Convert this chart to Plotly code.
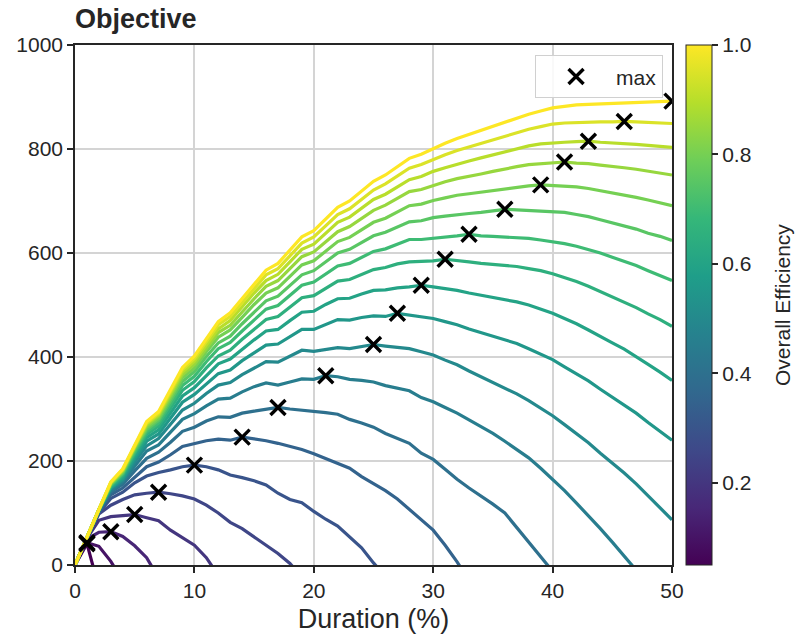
import plotly.graph_objects as go
from plotly.colors import sample_colorscale

# Duration grid (%), one value per integer step
duration = list(range(51))

# Overall efficiency of each curve
efficiency = [0.05, 0.10, 0.15, 0.20, 0.25, 0.30, 0.35, 0.40, 0.45, 0.50,
              0.55, 0.60, 0.65, 0.70, 0.75, 0.80, 0.85, 0.90, 0.95, 1.00]

# Objective value per curve, starting at duration 0 (a curve stops once it drops below zero)
obj_005 = [0, 41, -44]
obj_010 = [0, 43, 36, 7, -31]
obj_015 = [0, 50, 63, 64, 55, 37, 14, -25]
obj_020 = [0, 51, 86, 93, 95, 97, 91, 85, 67, 52, 38, 14, -20]
obj_025 = [0, 52, 98, 115, 126, 135, 138, 140, 137, 133, 127, 115, 100, 82, 70, 54,
           39, 22, 3, -23]
obj_030 = [0, 52, 100, 128, 140, 158, 171, 178, 183, 189, 192, 189, 183, 173, 168, 162,
           154, 138, 126, 120, 103, 88, 75, 55, 33, 4, -22]
obj_035 = [0, 53, 102, 135, 148, 169, 189, 198, 212, 228, 233,
           239, 242, 240, 246, 243, 239, 234, 228, 222, 214,
           205, 196, 186, 170, 157, 143, 127, 107, 89, 67,
           38, 6, -30]
obj_040 = [0, 53, 104, 140, 155, 181, 205, 217, 236, 257, 265,
           277, 285, 284, 292, 296, 299, 303, 300, 298, 295,
           293, 290, 280, 273, 265, 253, 244, 234, 215, 203,
           184, 165, 148, 133, 117, 100, 72, 45, 17, -12]
obj_045 = [0, 53, 105, 143, 160, 190, 219, 231, 255, 280, 291,
           306, 319, 321, 333, 343, 350, 346, 352, 358, 357,
           364, 362, 357, 355, 352, 345, 340, 335, 322, 314,
           303, 292, 279, 266, 253, 238, 222, 206, 186, 165,
           143, 119, 95, 70, 44, 17, -10]
obj_050 = [0, 53, 105, 146, 163, 198, 229, 243, 270, 298, 311,
           330, 346, 351, 366, 379, 391, 390, 402, 413, 411,
           415, 418, 416, 420, 424, 421, 419, 416, 410, 404,
           394, 385, 373, 362, 350, 340, 329, 316, 302, 287,
           270, 253, 235, 215, 196, 177, 156, 133, 111, 87]
obj_055 = [0, 53, 106, 148, 165, 204, 238, 252, 282, 313, 328,
           349, 368, 375, 393, 408, 423, 425, 439, 453, 453,
           463, 472, 471, 476, 479, 478, 484, 481, 477, 474,
           468, 462, 454, 447, 440, 433, 426, 416, 406, 395,
           381, 368, 354, 338, 323, 308, 292, 274, 257, 240]
obj_060 = [0, 54, 106, 149, 169, 209, 245, 260, 293, 325, 341,
           365, 387, 396, 415, 433, 450, 453, 470, 486, 488,
           501, 512, 513, 521, 528, 529, 533, 535, 538, 535,
           532, 528, 523, 519, 515, 511, 506, 500, 492, 484,
           474, 464, 452, 439, 427, 415, 401, 386, 371, 355]
obj_065 = [0, 54, 106, 151, 172, 214, 251, 267, 301, 336, 353,
           379, 402, 413, 434, 454, 472, 478, 496, 514, 518,
           532, 546, 549, 559, 568, 572, 579, 583, 584, 585,
           588, 586, 583, 580, 578, 576, 574, 570, 566, 560,
           553, 545, 536, 526, 516, 506, 495, 483, 472, 459]
obj_070 = [0, 54, 106, 153, 175, 217, 256, 273, 309, 345, 363,
           391, 416, 428, 450, 472, 492, 499, 519, 538, 544,
           560, 575, 580, 592, 603, 608, 617, 626, 626, 628,
           631, 633, 636, 633, 632, 631, 630, 628, 625, 622,
           618, 613, 607, 600, 592, 584, 576, 566, 557, 547]
obj_075 = [0, 54, 106, 154, 177, 221, 260, 278, 315, 353, 372,
           401, 427, 440, 464, 487, 508, 517, 538, 558, 566,
           583, 600, 607, 620, 633, 640, 650, 660, 662, 668,
           671, 674, 676, 678, 681, 684, 683, 682, 681, 680,
           678, 674, 670, 664, 658, 652, 646, 638, 632, 624]
obj_080 = [0, 54, 106, 156, 179, 224, 264, 282, 321, 360, 379,
           410, 438, 452, 476, 501, 523, 533, 555, 577, 585,
           604, 622, 630, 645, 659, 667, 679, 691, 694, 701,
           706, 711, 714, 717, 721, 724, 727, 729, 731, 730,
           728, 727, 724, 720, 716, 712, 707, 702, 697, 691]
obj_085 = [0, 54, 107, 157, 181, 226, 268, 286, 326, 366, 386,
           417, 447, 461, 487, 512, 536, 547, 570, 593, 602,
           622, 641, 651, 667, 682, 692, 705, 718, 722, 730,
           737, 743, 747, 752, 757, 762, 766, 770, 772, 773,
           775, 773, 772, 769, 767, 764, 761, 757, 754, 750]
obj_090 = [0, 54, 107, 158, 182, 228, 271, 289, 330, 371, 392,
           424, 454, 470, 497, 523, 547, 559, 583, 607, 617,
           638, 659, 669, 686, 703, 713, 727, 741, 747, 757,
           764, 771, 777, 783, 789, 795, 801, 806, 810, 812,
           813, 814, 815, 813, 812, 811, 809, 807, 805, 803]
obj_095 = [0, 54, 108, 159, 184, 230, 273, 292, 334, 376, 397,
           430, 462, 478, 505, 532, 558, 570, 595, 619, 631,
           653, 674, 685, 703, 721, 733, 748, 763, 770, 780,
           789, 797, 804, 811, 818, 825, 832, 838, 843, 848,
           850, 851, 851, 852, 852, 853, 852, 851, 850, 849]
obj_100 = [0, 54, 108, 160, 185, 232, 276, 295, 338, 380, 402,
           436, 468, 485, 513, 541, 567, 580, 606, 631, 643,
           666, 688, 700, 719, 738, 750, 766, 782, 790, 801,
           811, 820, 828, 836, 844, 852, 860, 867, 873, 879,
           882, 885, 886, 887, 888, 889, 890, 890, 891, 892]

curves = [obj_005, obj_010, obj_015, obj_020, obj_025, obj_030, obj_035,
          obj_040, obj_045, obj_050, obj_055, obj_060, obj_065, obj_070,
          obj_075, obj_080, obj_085, obj_090, obj_095, obj_100]

x_ticks = [0, 10, 20, 30, 40, 50]
y_ticks = [0, 200, 400, 600, 800, 1000]
cbar_ticks = [0.2, 0.4, 0.6, 0.8, 1.0]

e_min, e_max = min(efficiency), max(efficiency)
FONT = "Arial, Liberation Sans, sans-serif"
INK = "#262626"
GRID = "#d4d4d4"

# plot area in pixels
W, H = 795, 636
L, R, T, B = 75, 123, 45, 71
plot_w = W - L - R

fig = go.Figure()

for e, ys in zip(efficiency, curves):
    color = sample_colorscale("Viridis", [(e - e_min) / (e_max - e_min)])[0]
    fig.add_trace(go.Scatter(
        x=duration[:len(ys)], y=ys, mode="lines",
        line=dict(color=color, width=3.2),
        showlegend=False, hoverinfo="skip",
    ))

# maximum of each curve
peak_x, peak_y = [], []
for ys in curves:
    i = max(range(len(ys)), key=lambda k: ys[k])
    peak_x.append(duration[i])
    peak_y.append(ys[i])

fig.add_trace(go.Scatter(
    x=peak_x, y=peak_y, mode="markers", name="max",
    marker=dict(symbol="x-thin", size=15, color="black",
                line=dict(width=3.4, color="black")),
))

# colour scale for efficiency
fig.add_trace(go.Scatter(
    x=[None], y=[None], mode="markers", showlegend=False, hoverinfo="skip",
    marker=dict(
        colorscale="Viridis", cmin=e_min, cmax=e_max, color=[e_min],
        showscale=True,
        colorbar=dict(
            x=(686 - L) / plot_w, xanchor="left", xpad=0,
            y=0.5, yanchor="middle", len=1.0, lenmode="fraction", ypad=0,
            thickness=26, outlinecolor=INK, outlinewidth=1,
            tickvals=cbar_ticks, tickformat=".1f",
            ticks="outside", ticklen=6, tickwidth=1.5, tickcolor=INK,
            tickfont=dict(family=FONT, size=21, color=INK),
        ),
    ),
))

axis_common = dict(
    showline=True, linecolor=INK, linewidth=1.5, mirror=True,
    ticks="outside", ticklen=6, tickwidth=1.5, tickcolor=INK,
    showgrid=True, gridcolor=GRID, gridwidth=1.5, zeroline=False,
    tickfont=dict(family=FONT, size=21, color=INK),
    automargin=False,
)

fig.update_xaxes(range=[0, 50], tickvals=x_ticks,
                 title=dict(text="Duration (%)", font=dict(family=FONT, size=27, color=INK),
                            standoff=8),
                 **axis_common)
fig.update_yaxes(range=[0, 1000], tickvals=y_ticks, **axis_common)

fig.update_layout(
    width=W, height=H,
    margin=dict(l=L, r=R, t=T, b=B, autoexpand=False),
    plot_bgcolor="white", paper_bgcolor="white",
    font=dict(family=FONT, color=INK),
    title=dict(text="<b>Objective</b>", x=0, xref="paper", xanchor="left",
               y=1 - 19 / H, yref="container", yanchor="middle",
               font=dict(family=FONT, size=27, color=INK)),
    legend=dict(x=0.985, y=0.98, xanchor="right", yanchor="top",
                itemwidth=70,
                bgcolor="rgba(255,255,255,0.85)", bordercolor="#d0d0d0", borderwidth=1,
                font=dict(family=FONT, size=21, color=INK)),
    annotations=[dict(
        text="Overall Efficiency", textangle=-90,
        x=(782 - L) / plot_w, xref="paper", y=0.5, yref="paper",
        xanchor="center", yanchor="middle", showarrow=False,
        font=dict(family=FONT, size=21, color=INK),
    )],
)

fig.write_html("out.html")
